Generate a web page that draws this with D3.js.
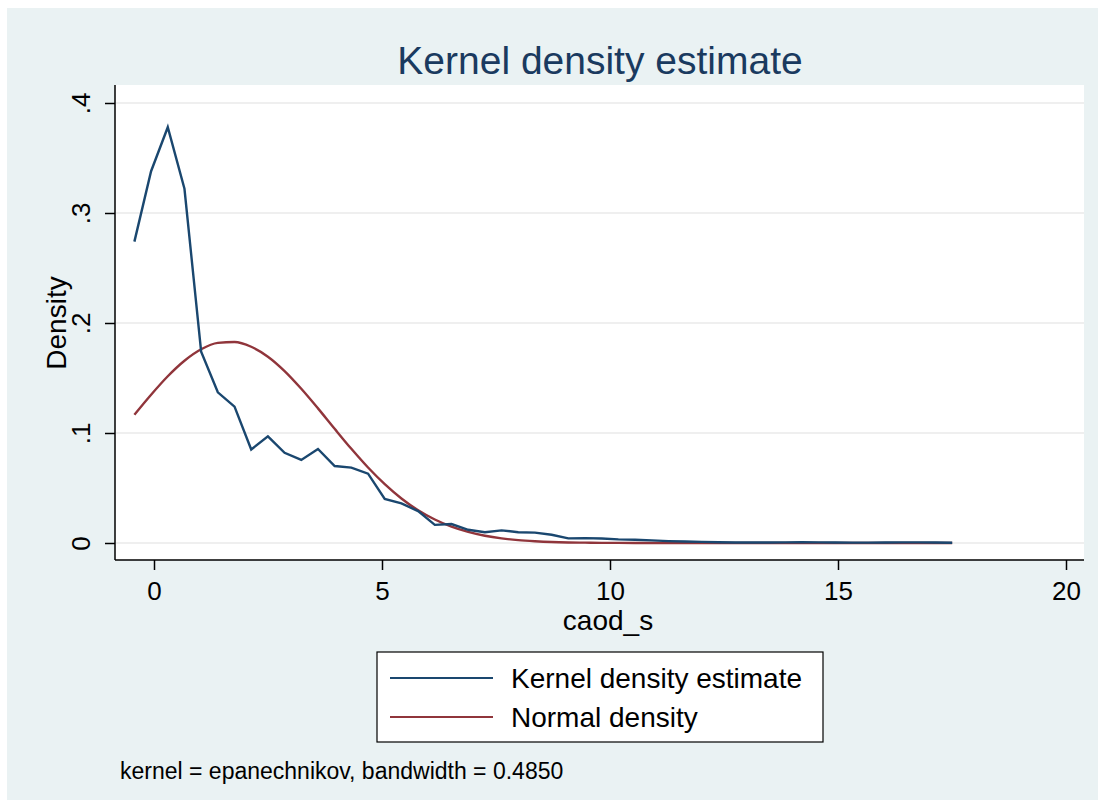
<!DOCTYPE html>
<html><head><meta charset="utf-8">
<script src="https://cdn.jsdelivr.net/npm/d3@7"></script>
<style>body{margin:0;background:#fff}svg{display:block;font-family:"Liberation Sans",Arial,sans-serif}</style>
</head><body><svg id="c" width="1105" height="805"></svg>
<script>
const xGrid = [-0.43,-0.064,0.302,0.668,1.034,1.40,1.766,2.132,2.498,2.864,3.23,3.596,3.962,4.328,4.694,5.06,5.426,5.792,6.158,6.524,6.89,7.256,7.622,7.988,8.354,8.72,9.086,9.452,9.818,10.184,10.55,10.916,11.282,11.648,12.014,12.38,12.746,13.112,13.478,13.844,14.21,14.576,14.942,15.308,15.674,16.04,16.406,16.772,17.138,17.504];
const kernelY = [0.274,0.338,0.378,0.322,0.174,0.137,0.124,0.085,0.097,0.082,0.0755,0.0855,0.070,0.0685,0.063,0.040,0.036,0.029,0.0165,0.0172,0.012,0.0098,0.0115,0.0098,0.0094,0.0075,0.0042,0.0044,0.0041,0.0033,0.003,0.0024,0.0017,0.0013,0.001,0.0007,0.0005,0.0004,0.0005,0.0006,0.0007,0.0006,0.0004,0.0003,0.0003,0.0004,0.0006,0.0006,0.0004,0.0002];
const normalY = [0.1166,0.1348,0.1516,0.1657,0.1761,0.1819,0.1827,0.1784,0.1694,0.1563,0.1402,0.1224,0.1038,0.0856,0.0686,0.0535,0.0405,0.0298,0.0214,0.0149,0.0101,0.0066,0.0042,0.0026,0.0016,0.0009,0.0005,0.0003,0.0001,0.0001,0,0,0,0,0,0,0,0,0,0,0,0,0,0,0,0,0,0,0,0];
const xTicks = [0,5,10,15,20];
const yTicks = [0,0.1,0.2,0.3,0.4];
const yTickLabels = ["0",".1",".2",".3",".4"];
const seriesNames = ["Kernel density estimate","Normal density"];
const titleText = "Kernel density estimate";
const xLabel = "caod_s", yLabel = "Density";
const noteText = "kernel = epanechnikov, bandwidth = 0.4850";

const svg = d3.select("#c");
const navy = "#1a476f", maroon = "#90353b";
svg.append("rect").attr("x",7).attr("y",8).attr("width",1091).attr("height",792).attr("fill","#eaf2f3");
const L=115, R=1084, T=85, B=560;
svg.append("rect").attr("x",L).attr("y",T).attr("width",R-L).attr("height",B-T).attr("fill","#fff");
const x = d3.scaleLinear().domain([0,20]).range([154,1066]);
const y = d3.scaleLinear().domain([0,0.4]).range([543,103]);

// gridlines
svg.append("g").selectAll("line").data(yTicks).join("line")
  .attr("x1",L+1).attr("x2",R).attr("y1",d=>y(d)).attr("y2",d=>y(d))
  .attr("stroke","#eaeaea").attr("stroke-width",1.5);

// axes
const xAxis = svg.append("g").attr("transform",`translate(0,${B})`)
  .call(d3.axisBottom(x).tickValues(xTicks).tickSize(10).tickPadding(12).tickFormat(d3.format("d")));
xAxis.select(".domain").attr("d",`M${L},0H${R}`);
const yAxis = svg.append("g").attr("transform",`translate(${L},0)`)
  .call(d3.axisLeft(y).tickValues(yTicks).tickSize(10).tickFormat((d,i)=>yTickLabels[i]));
yAxis.select(".domain").attr("d",`M0,${T}V${B}`);
[xAxis,yAxis].forEach(g=>{
  g.selectAll(".domain").attr("stroke","#000").attr("stroke-width",1.5);
  g.selectAll(".tick line").attr("stroke","#000").attr("stroke-width",1.5);
  g.selectAll("text").attr("font-size",26).attr("fill","#000").attr("font-family","Liberation Sans, Arial, sans-serif");
});
yAxis.selectAll(".tick text").attr("x",null).attr("dy",null)
  .attr("text-anchor","middle")
  .attr("transform","translate(-34,0) rotate(-90)")
  .attr("dy","0.35em");

// lines
const line = (arr, curve) => d3.line().curve(curve).x((d,i)=>x(xGrid[i])).y(d=>y(d))(arr);
svg.append("path").attr("d",line(normalY, d3.curveMonotoneX)).attr("fill","none").attr("stroke",maroon).attr("stroke-width",2.4);
svg.append("path").attr("d",line(kernelY, d3.curveLinear)).attr("fill","none").attr("stroke",navy).attr("stroke-width",2.4);

// titles
svg.append("text").attr("x",600).attr("y",74).attr("text-anchor","middle").attr("font-size",39).attr("fill","#1a3a5f").text(titleText);
svg.append("text").attr("x",608).attr("y",630).attr("text-anchor","middle").attr("font-size",28).text(xLabel);
svg.append("text").attr("transform","translate(56,323) rotate(-90)").attr("text-anchor","middle").attr("dy","0.35em").attr("font-size",28).text(yLabel);

// legend
svg.append("rect").attr("x",377).attr("y",652).attr("width",446).attr("height",90).attr("fill","#fff").attr("stroke","#000").attr("stroke-width",1.2);
const colors=[navy,maroon];
seriesNames.forEach((n,i)=>{
  const yy = 678 + i*39;
  svg.append("line").attr("x1",390).attr("x2",493).attr("y1",yy).attr("y2",yy).attr("stroke",colors[i]).attr("stroke-width",2.2);
  svg.append("text").attr("x",511).attr("y",yy).attr("dy","0.35em").attr("font-size",28).text(n);
});
svg.append("text").attr("x",120).attr("y",779).attr("font-size",23).text(noteText);
</script></body></html>
